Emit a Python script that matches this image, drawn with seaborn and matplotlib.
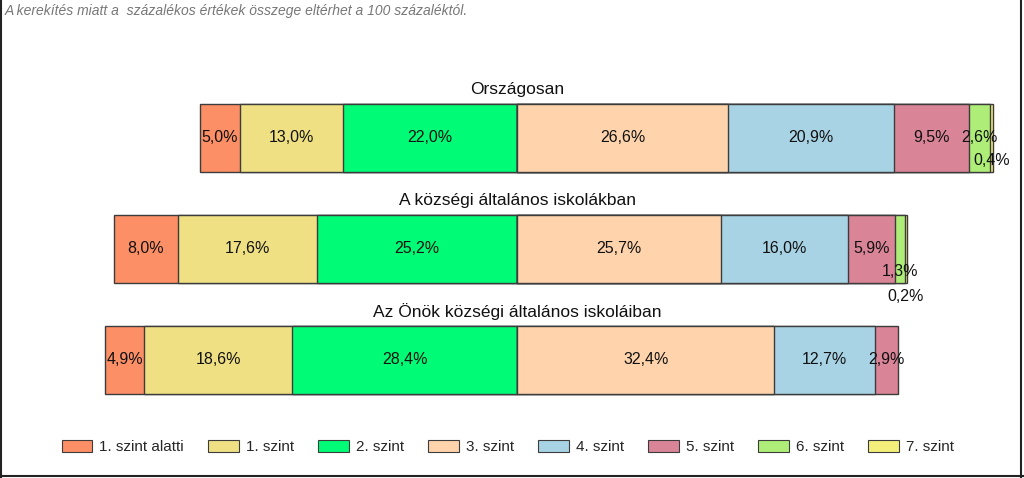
import numpy as np
import pandas as pd
import matplotlib
matplotlib.use("Agg")
import matplotlib.pyplot as plt
import seaborn as sns
from matplotlib.patches import Patch
from matplotlib.lines import Line2D

sns.set_theme(style="white")
plt.rcParams['font.family'] = ['Liberation Sans', 'DejaVu Sans']

groups = ["Országosan", "A községi általános iskolákban", "Az Önök községi általános iskoláiban"]
levels = ["1. szint alatti", "1. szint", "2. szint", "3. szint", "4. szint", "5. szint", "6. szint", "7. szint"]
orszagosan = [5.0, 13.0, 22.0, 26.6, 20.9, 9.5, 2.6, 0.4]
kozsegi = [8.0, 17.6, 25.2, 25.7, 16.0, 5.9, 1.3, 0.2]
onok = [4.9, 18.6, 28.4, 32.4, 12.7, 2.9, 0.0, 0.0]
colors = ["#FC8F66", "#EFE084", "#00FC76", "#FFD4AC", "#A8D3E5", "#D98497", "#AEEE78", "#F4EF7B"]
note = "A kerekítés miatt a  százalékos értékek összege eltérhet a 100 százaléktól."

data = np.array([orszagosan, kozsegi, onok])
n_left = 3  # levels drawn left of the centre line

fig = plt.figure(figsize=(10.24, 4.78), dpi=100)
ax = fig.add_axes([0, 0, 1, 1])

edge = "#3c3c3c"
bar_h = 0.61
# left side: cumulative widths drawn from widest to narrowest
for j in range(n_left):
    widths = -data[:, j:n_left].sum(axis=1)
    df = pd.DataFrame({"grp": groups, "w": widths})
    sns.barplot(data=df, x="w", y="grp", orient="h", color=colors[j], width=bar_h,
                edgecolor=edge, linewidth=1.0, errorbar=None, ax=ax, saturation=1)
# right side
for j in range(len(levels) - 1, n_left - 1, -1):
    widths = data[:, n_left:j + 1].sum(axis=1)
    mask = data[:, j] > 0
    df = pd.DataFrame({"grp": groups, "w": np.where(mask, widths, np.nan)})
    sns.barplot(data=df, x="w", y="grp", orient="h", color=colors[j], width=bar_h,
                edgecolor=edge, linewidth=1.0, errorbar=None, ax=ax, saturation=1)

# labels
for i in range(len(groups)):
    row = data[i]
    left = -row[:n_left].sum()
    starts = left + np.concatenate([[0], np.cumsum(row)[:-1]])
    tiny_count = 0
    for j, v in enumerate(row):
        if v <= 0:
            continue
        cx = starts[j] + v / 2
        dy = 0
        if v < 2.0:
            tiny_count += 1
            dy = [0, 0.2, 0.43][tiny_count] if i == 1 else 0.2
        ax.text(cx, i + dy, f"{v:.1f}%".replace(".", ","), ha="center", va="center",
                fontsize=11.5, color="#111111")
    ax.text(0, i - 0.44, groups[i], ha="center", va="center", fontsize=12.5, color="#111111")

ax.set_xlim(-65.2, 63.9)
ax.set_ylim(3.063, -1.243)
ax.axis("off")

fig.text(0.005, 0.978, note, ha="left", va="center", fontsize=10, style="italic", color="#777777")

handles = [Patch(facecolor=c, edgecolor=edge, linewidth=0.8) for c in colors]
fig.legend(handles, levels, loc="center", bbox_to_anchor=(0.496, 0.065), ncol=8, frameon=False,
           fontsize=11, handlelength=2.0, handleheight=0.9, handletextpad=0.45, columnspacing=1.6)

# frame lines
for xs, ys in [([0.001, 0.001], [0, 1]), ([0.997, 0.997], [0, 1]), ([0, 1], [0.005, 0.005])]:
    fig.add_artist(Line2D(xs, ys, transform=fig.transFigure, color="#222222", linewidth=1.5))

fig.savefig("out.png", dpi=100)
